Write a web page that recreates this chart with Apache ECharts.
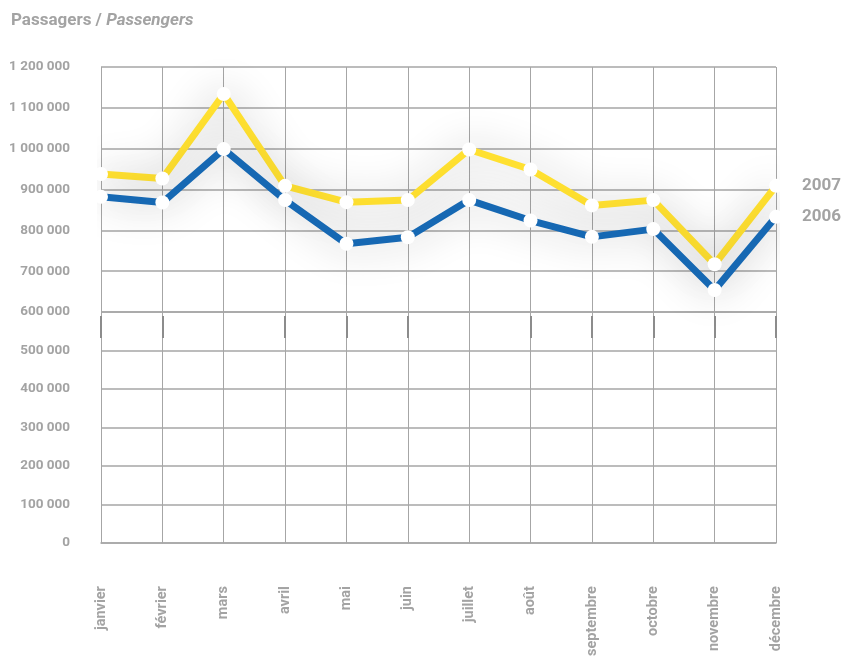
<!DOCTYPE html>
<html>
<head>
<meta charset="utf-8">
<script src="https://cdn.jsdelivr.net/npm/echarts@6/dist/echarts.min.js"></script>
<style>
  html, body { margin: 0; padding: 0; background: #fff; }
  #chart { width: 842px; height: 659px; }
</style>
</head>
<body>
<div id="chart"></div>
<script>
// mois
var months = ["janvier", "février", "mars", "avril", "mai", "juin", "juillet", "août", "septembre", "octobre", "novembre", "décembre"];
// passagers par mois
var pax2007 = [938000, 927000, 1134000, 909000, 869000, 874000, 998000, 949000, 861000, 874000, 717000, 909000];
var pax2006 = [882000, 868000, 999000, 874000, 767000, 783000, 874000, 824000, 784000, 803000, 654000, 833000];

var FONT = "Roboto, 'Liberation Sans', sans-serif";
var GREY = "#a3a3a3";
var GRID_LINE = "#a6a6a6";

function fmt(v) {
  return String(v).replace(/\B(?=(\d{3})+(?!\d))/g, " ");
}

function lineSeries(name, data, color) {
  return {
    name: name,
    type: "line",
    xAxisIndex: 0,
    yAxisIndex: 0,
    data: data,
    clip: false,
    z: 2,
    showSymbol: false,
    lineStyle: {
      color: color,
      width: 7,
      shadowBlur: 40,
      shadowColor: "rgba(0,0,0,0.32)"
    },
    endLabel: {
      show: true,
      formatter: "{a}",
      distance: 26,
      fontFamily: FONT,
      fontSize: 17,
      fontWeight: "bold",
      color: GREY
    }
  };
}

// points blancs au-dessus des deux courbes
function dotSeries(data) {
  return {
    type: "scatter",
    xAxisIndex: 0,
    yAxisIndex: 0,
    data: data,
    clip: false,
    z: 5,
    symbol: "circle",
    symbolSize: 14,
    itemStyle: { color: "#fff", opacity: 1 }
  };
}

var chart = echarts.init(document.getElementById("chart"));

var option = {
  backgroundColor: "#fff",
  animation: false,
  title: {
    left: 6,
    top: 7,
    text: "{a|Passagers / }{b|Passengers}",
    textStyle: {
      rich: {
        a: { fontFamily: FONT, fontSize: 17, fontWeight: "bold", color: GREY },
        b: { fontFamily: FONT, fontSize: 17, fontWeight: "bold", fontStyle: "italic", color: GREY }
      }
    }
  },
  grid: [
    { left: 101, right: 66, top: 67, height: 245 },
    { left: 101, right: 66, top: 312, height: 233 }
  ],
  xAxis: [
    {
      gridIndex: 0,
      type: "category",
      data: months,
      boundaryGap: false,
      position: "bottom",
      offset: 4,
      axisLine: { show: false },
      axisTick: {
        show: true,
        length: 22,
        interval: function (idx) { return idx !== 2 && idx !== 6; },
        lineStyle: { color: "#8c8c8c", width: 2 }
      },
      axisLabel: { show: false },
      splitLine: { show: true, interval: 0, lineStyle: { color: GRID_LINE, width: 1 } }
    },
    {
      gridIndex: 1,
      type: "category",
      data: months,
      boundaryGap: false,
      axisLine: { show: true, lineStyle: { color: GRID_LINE, width: 1.5 } },
      axisTick: { show: false },
      axisLabel: {
        interval: 0,
        rotate: 90,
        margin: 43,
        fontFamily: FONT,
        fontSize: 14.5,
        fontWeight: "bold",
        color: GREY
      },
      splitLine: { show: true, interval: 0, lineStyle: { color: GRID_LINE, width: 1 } }
    }
  ],
  yAxis: [
    {
      gridIndex: 0,
      type: "value",
      min: 600000,
      max: 1200000,
      interval: 100000,
      axisLine: { show: false },
      axisTick: { show: false },
      axisLabel: {
        margin: 31,
        fontFamily: FONT,
        fontSize: 13.5,
        fontWeight: "bold",
        color: GREY,
        formatter: fmt
      },
      splitLine: { show: true, lineStyle: { color: GRID_LINE, width: 1.5 } }
    },
    {
      gridIndex: 1,
      type: "value",
      min: 0,
      max: 600000,
      interval: 100000,
      axisLine: { show: false },
      axisTick: { show: false },
      axisLabel: {
        margin: 31,
        showMaxLabel: false,
        fontFamily: FONT,
        fontSize: 13.5,
        fontWeight: "bold",
        color: GREY,
        formatter: fmt
      },
      splitLine: { show: true, lineStyle: { color: GRID_LINE, width: 1.5 } }
    }
  ],
  series: [
    lineSeries("2007", pax2007, "#ffe030"),
    lineSeries("2006", pax2006, "#1668b3"),
    dotSeries(pax2007),
    dotSeries(pax2006)
  ]
};

chart.setOption(option);
</script>
</body>
</html>
